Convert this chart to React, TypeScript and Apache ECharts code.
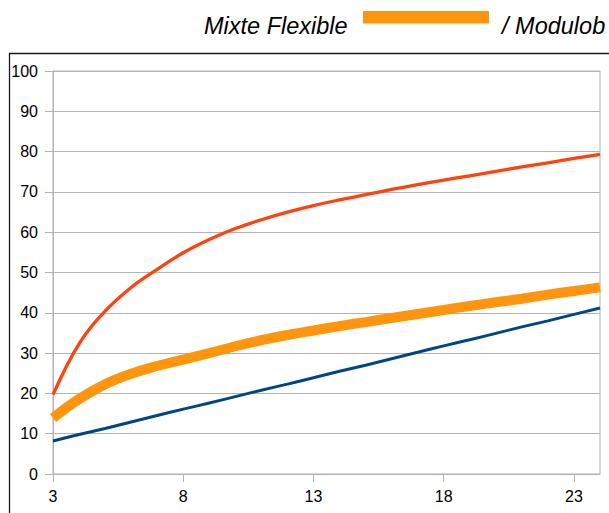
import React, { useEffect, useRef } from "react";
import * as echarts from "echarts";

const categories = ["3","4","5","6","7","8","9","10","11","12","13","14","15","16","17","18","19","20","21","22","23","24"];
const blueValues = [8.2, 9.8, 11.3, 12.9, 14.5, 16.1, 17.6, 19.2, 20.8, 22.3, 23.9, 25.5, 27.0, 28.6, 30.2, 31.8, 33.3, 34.9, 36.5, 38.0, 39.6, 41.2];
const orangeValues = [13.9, 18.6, 22.3, 24.9, 26.8, 28.4, 30.0, 31.7, 33.2, 34.5, 35.6, 36.7, 37.7, 38.7, 39.7, 40.7, 41.7, 42.6, 43.5, 44.5, 45.4, 46.3];
const redValues = [19.7, 32.3, 40.4, 46.3, 50.8, 54.9, 58.2, 60.9, 63.1, 65.0, 66.6, 68.0, 69.3, 70.6, 71.8, 72.9, 74.0, 75.1, 76.2, 77.2, 78.3, 79.3];
const legendLeft = "Mixte Flexible";
const legendRight = "/ Modulob";

export default function App() {
  const ref = useRef<HTMLDivElement>(null);
  useEffect(() => {
    if (!ref.current) return;
    const chart = echarts.init(ref.current, undefined, { renderer: "svg" });
    const font = "'Liberation Sans', Arial, sans-serif";
    const gray = "#b3b3b3";
    chart.setOption({
      animation: false,
      backgroundColor: "#ffffff",
      textStyle: { fontFamily: font },
      grid: {
        left: 53,
        top: 71,
        right: 9,
        bottom: 39,
        show: true,
        borderColor: gray,
        borderWidth: 1,
        backgroundColor: "transparent",
      },
      xAxis: {
        type: "category",
        data: categories,
        boundaryGap: false,
        axisLine: { show: true, lineStyle: { color: gray, width: 1 } },
        axisTick: { show: true, interval: 4, length: 8, lineStyle: { color: gray } },
        axisLabel: { interval: 4, margin: 14, color: "#000", fontSize: 16, fontFamily: font },
        splitLine: { show: false },
      },
      yAxis: {
        type: "value",
        min: 0,
        max: 100,
        interval: 10,
        axisLine: { show: true, lineStyle: { color: gray, width: 1 } },
        axisTick: { show: true, length: 8, lineStyle: { color: gray } },
        axisLabel: { margin: 15, color: "#000", fontSize: 16, fontFamily: font },
        splitLine: { show: true, lineStyle: { color: gray, width: 1 } },
      },
      series: [
        {
          type: "line",
          data: blueValues,
          symbol: "none",
          smooth: 0.3,
          lineStyle: { color: "#004586", width: 3 },
        },
        {
          type: "line",
          data: orangeValues,
          symbol: "none",
          smooth: 0.4,
          lineStyle: { color: "#ff950e", width: 10 },
        },
        {
          type: "line",
          data: redValues,
          symbol: "none",
          smooth: 0.4,
          lineStyle: { color: "#ff420e", width: 3.3 },
        },
      ],
      graphic: [
        {
          type: "rect",
          shape: { x: 9.5, y: 53.5, width: 700, height: 600 },
          style: { fill: "none", stroke: "#1a1a1a", lineWidth: 1.3 },
          silent: true,
          z: -1,
        },
        {
          type: "text",
          x: 204,
          y: 26,
          style: {
            text: legendLeft,
            fontFamily: font,
            fontStyle: "italic",
            fontSize: 23.5,
            fill: "#000",
            verticalAlign: "middle",
          },
        },
        {
          type: "rect",
          shape: { x: 363, y: 11, width: 126, height: 12.5 },
          style: { fill: "#ff950e" },
        },
        {
          type: "text",
          x: 502,
          y: 26,
          style: {
            text: legendRight,
            fontFamily: font,
            fontStyle: "italic",
            fontSize: 23.5,
            fill: "#000",
            verticalAlign: "middle",
          },
        },
      ],
    });
    return () => chart.dispose();
  }, []);
  return (
    <div
      ref={ref}
      style={{ position: "fixed", left: 0, top: 0, width: 609, height: 513, background: "#fff" }}
    />
  );
}
